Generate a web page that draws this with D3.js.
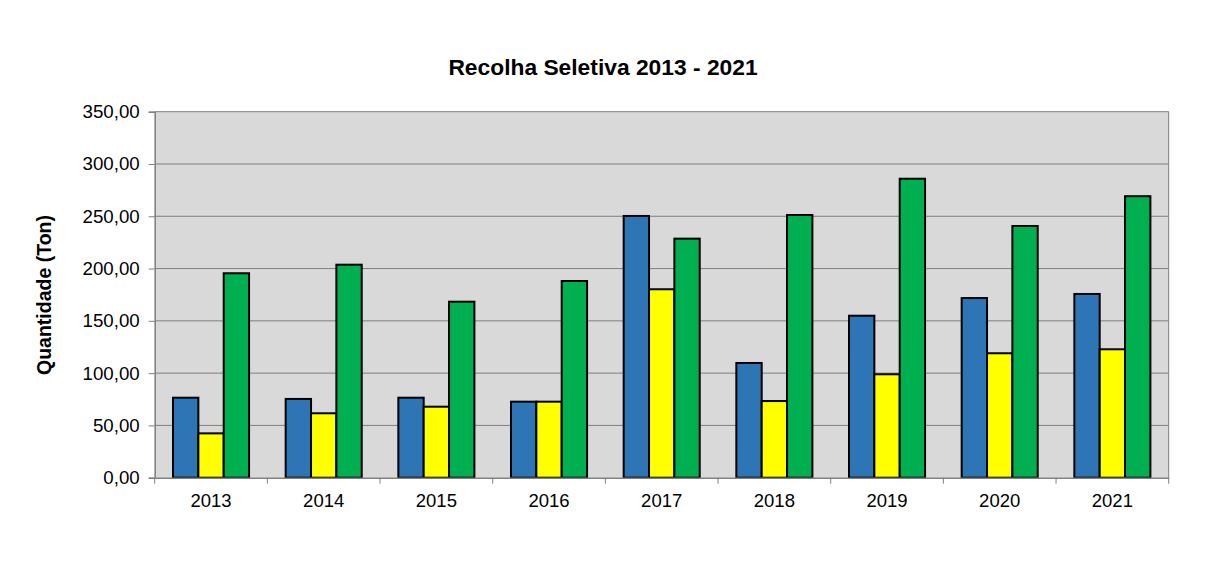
<!DOCTYPE html>
<html><head><meta charset="utf-8">
<script src="https://cdn.jsdelivr.net/npm/d3@7"></script>
<style>
body{margin:0;background:#fff;}
text{font-family:"Liberation Sans",Arial,sans-serif;}
</style></head>
<body><svg id="c" width="1217" height="585"></svg>
<script>
const categories = ["2013","2014","2015","2016","2017","2018","2019","2020","2021"];
const seriesNames = ["Série 1","Série 2","Série 3"];
const blueValues = [76.5, 75.3, 76.5, 72.7, 250.3, 109.7, 154.9, 171.8, 175.7];
const yellowValues = [42.4, 61.6, 67.9, 72.7, 180.2, 73.3, 98.9, 119.0, 122.8];
const greenValues = [195.5, 203.7, 168.3, 188.1, 228.6, 251.2, 285.9, 240.7, 269.2];
const yTicks = [0,50,100,150,200,250,300,350];
const colors = ["#2E75B6","#FFFF00","#00B050"];
const title = "Recolha Seletiva 2013 - 2021";
const yLabel = "Quantidade (Ton)";

const svg = d3.select("#c");
const L=154.7, R=1168.7, T=111.7, B=477.7;
const x = d3.scaleBand().domain(categories).range([L,R]).paddingInner(0.325).paddingOuter(0.1625);
const xs = d3.scaleBand().domain(seriesNames).range([0,x.bandwidth()]);
const y = d3.scaleLinear().domain([0,350]).range([B,T]);

svg.append("rect").attr("x",L).attr("y",T).attr("width",R-L).attr("height",B-T).attr("fill","#D9D9D9");
// gridlines
svg.append("g").selectAll("line").data(yTicks.slice(1)).join("line")
  .attr("x1",L).attr("x2",R).attr("y1",d=>y(d)).attr("y2",d=>y(d))
  .attr("stroke","#7f7f7f").attr("stroke-width",1);
svg.append("line").attr("x1",R).attr("x2",R).attr("y1",T).attr("y2",B).attr("stroke","#7f7f7f");

const data = categories.map((c,i)=>({c, v:[blueValues[i],yellowValues[i],greenValues[i]]}));
const g = svg.append("g").selectAll("g").data(data).join("g").attr("transform",d=>`translate(${x(d.c)},0)`);
g.selectAll("rect").data(d=>d.v.map((v,j)=>({v,s:seriesNames[j],j}))).join("rect")
  .attr("x",d=>xs(d.s)).attr("width",xs.bandwidth())
  .attr("y",d=>y(d.v)).attr("height",d=>B-y(d.v))
  .attr("fill",d=>colors[d.j]).attr("stroke","#000").attr("stroke-width",2);

// y axis
const fmt = d=>d3.format(".2f")(d).replace(".",",");
const ya = svg.append("g").attr("transform",`translate(${L},0)`)
  .call(d3.axisLeft(y).tickValues(yTicks).tickFormat(fmt).tickSize(6).tickPadding(9));
ya.select(".domain").attr("stroke","#7f7f7f").attr("stroke-width",1.5);
ya.selectAll(".tick line").attr("stroke","#7f7f7f");
ya.selectAll("text").attr("font-size",18.7).attr("fill","#000").style("font-family","'Liberation Sans',Arial,sans-serif");

// x axis
const xa = svg.append("g").attr("transform",`translate(0,${B})`)
  .call(d3.axisBottom(x).tickSize(0).tickPadding(15));
xa.select(".domain").attr("stroke","#7f7f7f").attr("stroke-width",1.5);
xa.selectAll("text").attr("font-size",18.5).attr("fill","#000").attr("dy",null).attr("y",29)
  .style("font-family","'Liberation Sans',Arial,sans-serif");
svg.append("g").selectAll("line").data(d3.range(categories.length+1)).join("line")
  .attr("x1",i=>L+i*(R-L)/categories.length).attr("x2",i=>L+i*(R-L)/categories.length)
  .attr("y1",B).attr("y2",B+6).attr("stroke","#7f7f7f");

svg.append("text").attr("x",603).attr("y",75).attr("text-anchor","middle")
  .attr("font-size",22.8).attr("font-weight","bold").text(title);
svg.append("text").attr("transform",`translate(51,${(215+375)/2}) rotate(-90)`).attr("text-anchor","middle")
  .attr("font-size",19.5).attr("font-weight","bold").text(yLabel);
</script></body></html>
